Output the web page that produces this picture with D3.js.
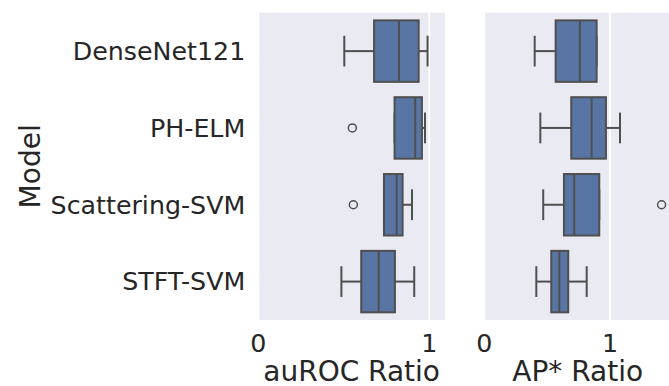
<!DOCTYPE html>
<html>
<head>
<meta charset="utf-8">
<script src="https://cdn.jsdelivr.net/npm/d3@7"></script>
<style>
  body { margin: 0; background: #fff; }
  svg text { font-family: "DejaVu Sans", sans-serif; fill: #262626; }
</style>
</head>
<body>
<div class="graphics"></div>
<script>
// models on the y axis
const models = ["DenseNet121", "PH-ELM", "Scattering-SVM", "STFT-SVM"];

// box stats: [whisker low, q1, median, q3, whisker high]
const aurocBoxes = [
  [0.503, 0.677, 0.823, 0.938, 0.990],
  [0.797, 0.797, 0.918, 0.957, 0.975],
  [0.735, 0.735, 0.809, 0.844, 0.899],
  [0.486, 0.602, 0.704, 0.799, 0.912]
];
const aurocOutliers = [[], [0.550], [0.556], []];

const apBoxes = [
  [0.401, 0.568, 0.761, 0.894, 0.894],
  [0.446, 0.692, 0.854, 0.968, 1.080],
  [0.469, 0.634, 0.716, 0.915, 0.915],
  [0.414, 0.533, 0.597, 0.668, 0.815]
];
const apOutliers = [[], [], [1.411], []];

const xTicks = [0, 1];

const width = 669, height = 386;
const plotTop = 12.7, plotBottom = 320;

const svg = d3.select(".graphics").append("svg")
  .attr("width", width)
  .attr("height", height);

const y = d3.scaleBand().domain(models).range([plotTop, plotBottom]).paddingInner(0).paddingOuter(0);

function panel(left, right, xmax, boxes, outliers, label, showY) {
  const x = d3.scaleLinear().domain([0, xmax]).range([left, right]);
  const g = svg.append("g");

  g.append("rect")
    .attr("x", left).attr("y", plotTop)
    .attr("width", right - left).attr("height", plotBottom - plotTop)
    .attr("fill", "#eaeaf2");

  // vertical grid
  g.selectAll("line.grid").data(xTicks).join("line")
    .attr("class", "grid")
    .attr("x1", d => x(d)).attr("x2", d => x(d))
    .attr("y1", plotTop).attr("y2", plotBottom)
    .attr("stroke", "#fff").attr("stroke-width", 1.8);

  const bw = y.bandwidth() * 0.8;
  const line = "#4f4f4f";

  const row = g.selectAll("g.row").data(boxes).join("g")
    .attr("class", "row")
    .attr("transform", (d, i) => `translate(0,${y(models[i]) + y.bandwidth() / 2})`);

  // whiskers
  row.append("line")
    .attr("x1", d => x(d[0])).attr("x2", d => x(d[1]))
    .attr("stroke", line).attr("stroke-width", 2);
  row.append("line")
    .attr("x1", d => x(d[3])).attr("x2", d => x(d[4]))
    .attr("stroke", line).attr("stroke-width", 2);
  row.append("line")
    .attr("x1", d => x(d[0])).attr("x2", d => x(d[0]))
    .attr("y1", -bw / 4).attr("y2", bw / 4)
    .attr("stroke", line).attr("stroke-width", 2);
  row.append("line")
    .attr("x1", d => x(d[4])).attr("x2", d => x(d[4]))
    .attr("y1", -bw / 4).attr("y2", bw / 4)
    .attr("stroke", line).attr("stroke-width", 2);

  // box
  row.append("rect")
    .attr("x", d => x(d[1])).attr("y", -bw / 2)
    .attr("width", d => x(d[3]) - x(d[1])).attr("height", bw)
    .attr("fill", "#5975a4").attr("stroke", line).attr("stroke-width", 2);

  // median
  row.append("line")
    .attr("x1", d => x(d[2])).attr("x2", d => x(d[2]))
    .attr("y1", -bw / 2).attr("y2", bw / 2)
    .attr("stroke", line).attr("stroke-width", 2);

  // outliers
  row.each(function(d, i) {
    d3.select(this).selectAll("circle").data(outliers[i]).join("circle")
      .attr("cx", v => x(v)).attr("cy", 0).attr("r", 4)
      .attr("fill", "none").attr("stroke", line).attr("stroke-width", 1.5);
  });

  // x tick labels
  g.selectAll("text.xt").data(xTicks).join("text")
    .attr("class", "xt")
    .attr("x", d => x(d)).attr("y", 352)
    .attr("text-anchor", "middle")
    .attr("font-size", 25.3)
    .text(d => d);

  g.append("text")
    .attr("x", (left + right) / 2).attr("y", 381)
    .attr("text-anchor", "middle")
    .attr("font-size", 28)
    .text(label);

  if (showY) {
    g.selectAll("text.yt").data(models).join("text")
      .attr("class", "yt")
      .attr("x", left - 13)
      .attr("y", d => y(d) + y.bandwidth() / 2)
      .attr("dy", "0.35em")
      .attr("text-anchor", "end")
      .attr("font-size", 25.3)
      .text(d => d);
  }
}

panel(258.3, 445, 1.092, aurocBoxes, aurocOutliers, "auROC Ratio", true);
panel(484.3, 671, 1.486, apBoxes, apOutliers, "AP* Ratio", false);

svg.append("text")
  .attr("transform", `translate(40,${(plotTop + plotBottom) / 2}) rotate(-90)`)
  .attr("text-anchor", "middle")
  .attr("font-size", 28)
  .text("Model");
</script>
</body>
</html>
